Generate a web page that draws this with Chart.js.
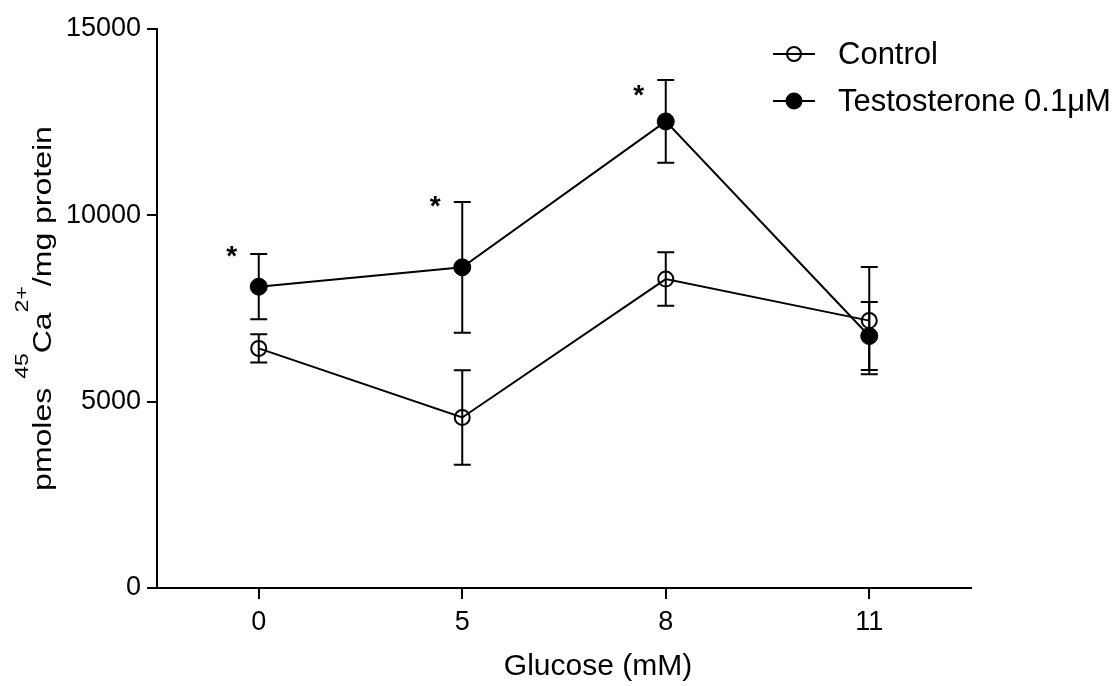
<!DOCTYPE html>
<html>
<head>
<meta charset="utf-8">
<title>45Ca2+ uptake</title>
<script src="https://cdn.jsdelivr.net/npm/chart.js@4.4.0/dist/chart.umd.min.js"></script>
<style>
  html, body { margin: 0; padding: 0; background: #fff; }
  #wrap { width: 1118px; height: 686px; position: relative; }
</style>
</head>
<body>
<div id="wrap"><canvas id="uptakeChart"></canvas></div>
<script>
/* ---------- data ---------- */
const glucose = ["0", "5", "8", "11"];
const controlMean = [6430, 4575, 8290, 7175];
const controlSem = [376, 1270, 717, 1436];
const testoMean = [8085, 8605, 12520, 6762];
const testoSem = [876, 1753, 1110, 912];
// asterisk heights (significance marks), null = none
const starLevels = [9000, 10330, 13300, null];
const yTicks = [0, 5000, 10000, 15000];

const FONT = "'Liberation Sans', Arial, Helvetica, sans-serif";

/* ---------- error bars ---------- */
const errorBars = {
  id: "errorBars",
  beforeDatasetsDraw(chart) {
    const { ctx, scales: { x, y } } = chart;
    const sets = [[controlMean, controlSem], [testoMean, testoSem]];
    ctx.save();
    ctx.strokeStyle = "#000";
    ctx.lineWidth = 2;
    sets.forEach(([m, e]) => {
      m.forEach((v, i) => {
        const px = x.getPixelForValue(i);
        const top = y.getPixelForValue(v + e[i]);
        const bot = y.getPixelForValue(v - e[i]);
        ctx.beginPath();
        ctx.moveTo(px, top); ctx.lineTo(px, bot);
        ctx.moveTo(px - 8.5, top); ctx.lineTo(px + 8.5, top);
        ctx.moveTo(px - 8.5, bot); ctx.lineTo(px + 8.5, bot);
        ctx.stroke();
      });
    });
    ctx.restore();
  }
};

/* ---------- titles, legend, asterisks ---------- */
const decorations = {
  id: "decorations",
  afterDraw(chart) {
    const { ctx, scales: { x, y } } = chart;
    ctx.save();
    ctx.fillStyle = "#000";

    // asterisks
    ctx.font = "bold 28px " + FONT;
    ctx.textAlign = "center";
    ctx.textBaseline = "alphabetic";
    starLevels.forEach((lvl, i) => {
      if (lvl === null) return;
      ctx.fillText("*", x.getPixelForValue(i) - 27, y.getPixelForValue(lvl) + 12);
    });

    // x title
    ctx.font = "30px " + FONT;
    ctx.textAlign = "center";
    ctx.textBaseline = "middle";
    ctx.fillText("Glucose (mM)", 598, 667);

    // y title with superscripts (text is a bit stretched in the original)
    const parts = [
      ["pmoles ", 32, 0],
      ["45", 23, 28],
      ["Ca", 32, 0],
      ["2+", 23, 28],
      ["/mg protein", 32, 0]
    ];
    let total = 0;
    parts.forEach(p => { ctx.font = p[1] + "px " + FONT; total += ctx.measureText(p[0]).width; });
    ctx.translate(51, (y.top + y.bottom) / 2);
    ctx.rotate(-Math.PI / 2);
    ctx.scale(1, 0.82);
    ctx.textAlign = "left";
    ctx.textBaseline = "alphabetic";
    let cx = -total / 2;
    parts.forEach(p => {
      ctx.font = p[1] + "px " + FONT;
      ctx.fillText(p[0], cx, -p[2]);
      cx += ctx.measureText(p[0]).width;
    });
    ctx.restore();

    // legend
    ctx.save();
    const rows = [
      { label: "Control", fill: false, y: 54 },
      { label: "Testosterone 0.1\u03BCM", fill: true, y: 101 }
    ];
    rows.forEach(r => {
      ctx.strokeStyle = "#000";
      ctx.lineWidth = 2;
      ctx.beginPath();
      ctx.moveTo(773, r.y); ctx.lineTo(815, r.y);
      ctx.stroke();
      ctx.beginPath();
      ctx.arc(794, r.y, r.fill ? 7.5 : 7, 0, Math.PI * 2);
      if (r.fill) { ctx.fillStyle = "#000"; ctx.fill(); }
      ctx.stroke();
      ctx.fillStyle = "#000";
      ctx.font = "31px " + FONT;
      ctx.textAlign = "left";
      ctx.textBaseline = "middle";
      ctx.fillText(r.label, 838, r.y + 1);
    });
    ctx.restore();
  }
};

/* ---------- chart ---------- */
const el = document.getElementById("uptakeChart");

if (el) {
  new Chart(el, {
    type: "line",
    data: {
      labels: glucose,
      datasets: [
        {
          label: "Control",
          data: controlMean,
          borderColor: "#000",
          borderWidth: 2,
          tension: 0,
          pointRadius: 7.5,
          pointBorderWidth: 2,
          pointBorderColor: "#000",
          pointBackgroundColor: "rgba(255,255,255,0)"
        },
        {
          label: "Testosterone 0.1\u03BCM",
          data: testoMean,
          borderColor: "#000",
          borderWidth: 2,
          tension: 0,
          pointRadius: 8.5,
          pointBorderWidth: 1,
          pointBorderColor: "#000",
          pointBackgroundColor: "#000"
        }
      ]
    },
    options: {
      responsive: true,
      maintainAspectRatio: false,
      animation: false,
      layout: { padding: { left: 0, top: 29, right: 147, bottom: 0 } },
      plugins: {
        legend: { display: false },
        tooltip: { enabled: false }
      },
      scales: {
        x: {
          offset: true,
          afterFit: (s) => { s.height = 98; },
          border: { display: true, color: "#000", width: 2 },
          grid: {
            offset: false,
            drawOnChartArea: false,
            drawTicks: true,
            tickLength: 11,
            color: "#000",
            lineWidth: 2
          },
          ticks: {
            color: "#000",
            padding: 7,
            font: { family: FONT, size: 27 }
          }
        },
        y: {
          min: 0,
          max: 15000,
          afterFit: (s) => { s.width = 157; },
          afterBuildTicks: (s) => { s.ticks = yTicks.map(v => ({ value: v })); },
          border: { display: true, color: "#000", width: 2 },
          grid: {
            drawOnChartArea: false,
            drawTicks: true,
            tickLength: 10,
            color: "#000",
            lineWidth: 2
          },
          ticks: {
            color: "#000",
            padding: 6,
            font: { family: FONT, size: 27 },
            callback: (v) => String(v)
          }
        }
      }
    },
    plugins: [errorBars, decorations]
  });
}
</script>
</body>
</html>
